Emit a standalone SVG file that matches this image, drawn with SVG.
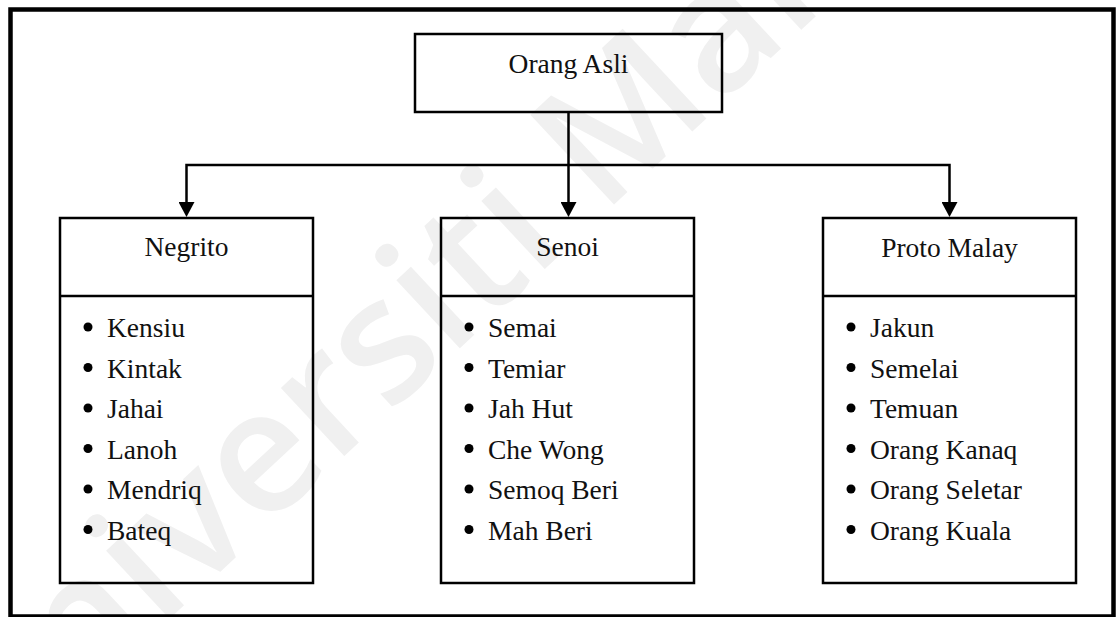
<svg xmlns="http://www.w3.org/2000/svg" width="1116" height="617" viewBox="0 0 1116 617">
  <style>
    .box { fill: none; stroke: #000; stroke-width: 2.5; }
    .head { font-family: "Liberation Serif", "Times New Roman", serif; font-size: 27.5px; fill: #111; text-anchor: middle; }
    .item { font-family: "Liberation Serif", "Times New Roman", serif; font-size: 27.5px; fill: #111; }
    .bul { fill: #000; }
    .conn { fill: none; stroke: #000; stroke-width: 2.5; }
    .wm { font-family: "Open Sans", "Liberation Sans", sans-serif; font-size: 172px; font-weight: 600; fill: #f0f0f0; }
  </style>
  <defs>
    <marker id="arrow" markerUnits="userSpaceOnUse" markerWidth="16" markerHeight="16" refX="0" refY="8" orient="auto" viewBox="0 0 16 16">
      <path d="M0,0 L15,8 L0,16 z" fill="#000"/>
    </marker>
    <marker id="arrowS" markerUnits="userSpaceOnUse" markerWidth="16" markerHeight="16" refX="0" refY="8" orient="auto-start-reverse" viewBox="0 0 16 16">
      <path d="M0,0 L15,8 L0,16 z" fill="#000"/>
    </marker>
  </defs>
  <rect x="0" y="0" width="1116" height="617" fill="#fff"/>
  <text class="wm" transform="translate(-14 790) rotate(-43)">Universiti Malaya</text>
  <rect id="frame" x="10.5" y="9.5" width="1103" height="607" fill="none" stroke="#000" stroke-width="4.5"/>

  <g id="connectors">
    <path class="conn" d="M568.5,112 V202" marker-end="url(#arrow)"/>
    <path class="conn" d="M186.5,202 V165 H949.5 V202" marker-start="url(#arrowS)" marker-end="url(#arrow)"/>
  </g>

  <g id="orang-asli">
    <rect class="box" x="415" y="34" width="307" height="78"/>
    <text class="head" x="568.5" y="73">Orang Asli</text>
  </g>

  <g id="negrito">
    <rect class="box" x="60" y="218" width="253" height="365"/>
    <line class="box" x1="60" y1="296" x2="313" y2="296"/>
    <text class="head" x="186.5" y="256">Negrito</text>
    <circle class="bul" cx="88" cy="327" r="4.5"/><text class="item" x="107" y="337">Kensiu</text>
    <circle class="bul" cx="88" cy="367.5" r="4.5"/><text class="item" x="107" y="377.5">Kintak</text>
    <circle class="bul" cx="88" cy="408" r="4.5"/><text class="item" x="107" y="418">Jahai</text>
    <circle class="bul" cx="88" cy="448.5" r="4.5"/><text class="item" x="107" y="458.5">Lanoh</text>
    <circle class="bul" cx="88" cy="489" r="4.5"/><text class="item" x="107" y="499">Mendriq</text>
    <circle class="bul" cx="88" cy="529.5" r="4.5"/><text class="item" x="107" y="539.5">Bateq</text>
  </g>

  <g id="senoi">
    <rect class="box" x="441" y="218" width="253" height="365"/>
    <line class="box" x1="441" y1="296" x2="694" y2="296"/>
    <text class="head" x="567.5" y="256">Senoi</text>
    <circle class="bul" cx="469" cy="327" r="4.5"/><text class="item" x="488" y="337">Semai</text>
    <circle class="bul" cx="469" cy="367.5" r="4.5"/><text class="item" x="488" y="377.5">Temiar</text>
    <circle class="bul" cx="469" cy="408" r="4.5"/><text class="item" x="488" y="418">Jah Hut</text>
    <circle class="bul" cx="469" cy="448.5" r="4.5"/><text class="item" x="488" y="458.5">Che Wong</text>
    <circle class="bul" cx="469" cy="489" r="4.5"/><text class="item" x="488" y="499">Semoq Beri</text>
    <circle class="bul" cx="469" cy="529.5" r="4.5"/><text class="item" x="488" y="539.5">Mah Beri</text>
  </g>

  <g id="proto-malay">
    <rect class="box" x="823" y="218" width="253" height="365"/>
    <line class="box" x1="823" y1="296" x2="1076" y2="296"/>
    <text class="head" x="949.5" y="257">Proto Malay</text>
    <circle class="bul" cx="851" cy="327" r="4.5"/><text class="item" x="870" y="337">Jakun</text>
    <circle class="bul" cx="851" cy="367.5" r="4.5"/><text class="item" x="870" y="377.5">Semelai</text>
    <circle class="bul" cx="851" cy="408" r="4.5"/><text class="item" x="870" y="418">Temuan</text>
    <circle class="bul" cx="851" cy="448.5" r="4.5"/><text class="item" x="870" y="458.5">Orang Kanaq</text>
    <circle class="bul" cx="851" cy="489" r="4.5"/><text class="item" x="870" y="499">Orang Seletar</text>
    <circle class="bul" cx="851" cy="529.5" r="4.5"/><text class="item" x="870" y="539.5">Orang Kuala</text>
  </g>
</svg>
